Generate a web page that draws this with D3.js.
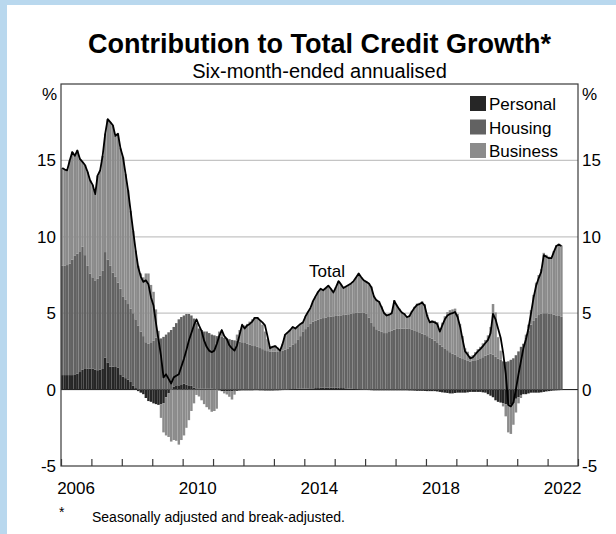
<!DOCTYPE html>
<html>
<head>
<meta charset="utf-8">
<script src="https://cdn.jsdelivr.net/npm/d3@7"></script>
<style>
  html, body { margin: 0; padding: 0; background: #b9d8ee; }
  svg { display: block; font-family: "Liberation Sans", Arial, sans-serif; }
</style>
</head>
<body>
<svg id="chart" width="616" height="534"></svg>
<script>
// Monthly observations, first month below; six-month-ended annualised, ppt contributions
const firstMonth = "2006-01";

const personal = [
  0.95, 0.95, 0.95, 0.95, 0.95, 1.0, 1.05, 1.15, 1.3, 1.35, 1.38, 1.38,
  1.38, 1.3, 1.27, 1.3, 1.35, 2.1, 1.75, 1.5, 1.5, 1.48, 1.45, 1.0,
  0.85, 0.75, 0.65, 0.5, 0.25, 0.1, -0.1, -0.2, -0.3, -0.55, -0.75, -0.8,
  -0.9, -0.95, -1.0, -0.95, -0.9, -0.5, -0.25, 0.0, 0.2, 0.28, 0.28, 0.3,
  0.38, 0.33, 0.28, 0.25, 0.13, 0.08, 0.05, 0.05, 0.05, 0.05, 0.05, 0.05,
  0.03, 0.0, -0.05, -0.1, -0.1, -0.12, -0.12, -0.1, -0.08, -0.08, -0.06, -0.05,
  -0.05, -0.05, -0.05, -0.05, -0.04, -0.04, -0.05, -0.05, -0.06, -0.06, -0.06, -0.06,
  -0.05, -0.05, -0.04, -0.03, -0.02, 0.0, 0.02, 0.03, 0.04, 0.05, 0.05, 0.06,
  0.06, 0.07, 0.08, 0.08, 0.1, 0.1, 0.12, 0.12, 0.13, 0.13, 0.13, 0.12,
  0.12, 0.12, 0.1, 0.1, 0.08, 0.06, 0.05, 0.04, 0.03, 0.02, 0.01, 0.0,
  -0.02, -0.03, -0.04, -0.05, -0.05, -0.05, -0.05, -0.05, -0.05, -0.05, -0.05, -0.05,
  -0.05, -0.05, -0.05, -0.05, -0.05, -0.06, -0.06, -0.07, -0.08, -0.08, -0.08, -0.09,
  -0.1, -0.1, -0.1, -0.1, -0.12, -0.15, -0.18, -0.2, -0.22, -0.25, -0.25, -0.22,
  -0.2, -0.2, -0.2, -0.2, -0.18, -0.15, -0.15, -0.15, -0.15, -0.15, -0.18, -0.2,
  -0.3, -0.4, -0.5, -0.7, -0.8, -0.85, -0.9, -0.95, -1.0, -1.0, -0.9, -0.6,
  -0.5, -0.35, -0.3, -0.3, -0.25, -0.2, -0.2, -0.2, -0.2, -0.18, -0.15, -0.12,
  -0.1, -0.08, -0.06, -0.05, -0.04, -0.03
];

const housing = [
  7.15, 7.15, 7.2, 7.3, 7.55, 7.75, 7.85, 7.9, 8.05, 7.45, 6.72, 6.22,
  5.97, 5.85, 5.98, 6.15, 6.45, 6.9, 6.75, 6.6, 6.15, 5.92, 5.55, 5.6,
  5.25, 5.15, 4.95, 4.8, 4.75, 4.5, 4.2, 3.8, 3.5, 3.1, 3.0, 3.05,
  3.2, 3.4, 3.35, 3.35, 3.45, 3.6, 3.75, 3.9, 3.9, 4.07, 4.32, 4.45,
  4.47, 4.62, 4.67, 4.6, 4.52, 4.27, 3.95, 3.85, 3.75, 3.75, 3.65, 3.55,
  3.52, 3.5, 3.5, 3.45, 3.4, 3.35, 3.3, 3.25, 3.22, 3.2, 3.15, 3.1,
  3.05, 3.0, 2.95, 2.9, 2.85, 2.8, 2.72, 2.65, 2.58, 2.52, 2.5, 2.48,
  2.48, 2.5, 2.52, 2.56, 2.62, 2.7, 2.8, 2.9, 3.0, 3.2, 3.45, 3.75,
  3.9, 4.07, 4.22, 4.37, 4.42, 4.48, 4.51, 4.56, 4.59, 4.62, 4.64, 4.68,
  4.7, 4.72, 4.76, 4.78, 4.82, 4.87, 4.91, 4.96, 4.99, 5.02, 5.04, 5.02,
  4.97, 4.7, 4.4, 4.15, 3.95, 3.85, 3.78, 3.7, 3.7, 3.77, 3.85, 3.92,
  3.97, 4.0, 4.0, 4.0, 4.0, 3.97, 3.94, 3.88, 3.82, 3.75, 3.66, 3.58,
  3.5, 3.42, 3.34, 3.2, 3.05, 2.95, 2.82, 2.7, 2.58, 2.45, 2.36, 2.28,
  2.18, 2.1, 2.0, 1.94, 1.88, 1.84, 1.88, 1.92, 1.98, 2.05, 2.12, 2.22,
  2.3, 2.36, 2.3, 2.15, 2.03, 1.95, 1.85, 1.82, 1.85, 1.95, 2.05, 2.25,
  2.5, 2.8, 3.0, 3.4, 3.85, 4.25, 4.5, 4.72, 4.88, 4.96, 5.0, 5.0,
  4.98, 4.95, 4.9, 4.86, 4.82, 4.78
];

const business = [
  6.4, 6.3, 6.2, 6.75, 7.05, 6.55, 6.75, 6.05, 5.55, 5.9, 6.15, 6.1,
  6.05, 5.65, 6.75, 6.9, 7.5, 7.75, 9.2, 9.4, 9.65, 9.2, 9.75, 9.2,
  9.1, 8.2, 7.45, 6.4, 5.4, 4.5, 3.9, 3.8, 3.85, 4.5, 4.6, 3.8,
  3.2, 1.85, 0.5, -0.9, -1.9, -2.5, -2.85, -3.4, -3.3, -3.35, -3.6, -3.3,
  -3.0, -2.5, -2.0, -1.4, -0.9, -0.35, -0.45, -0.7, -0.95, -1.15, -1.3, -1.45,
  -1.4, -1.25, 0.3, 0.45, -0.15, -0.2, -0.35, -0.55, -0.25, 0.4, 0.75, 1.0,
  1.15, 1.3, 1.5, 1.7, 1.9, 1.95, 1.83, 1.6, 1.22, 0.78, 0.35, 0.38,
  0.42, 0.25, 0.07, 0.47, 1.0, 1.05, 1.08, 1.17, 0.96, 0.9, 0.8, 0.59,
  0.84, 0.96, 1.05, 1.35, 1.58, 1.82, 1.97, 1.82, 1.93, 2.05, 1.83, 1.55,
  1.88, 2.26, 2.04, 1.77, 1.85, 1.92, 1.99, 2.1, 2.33, 2.56, 2.3, 2.13,
  2.1, 2.28, 2.34, 2.0, 1.95, 1.95, 1.67, 1.35, 1.2, 1.18, 1.2, 1.93,
  1.58, 1.3, 1.1, 1.0, 0.8, 0.89, 1.22, 1.54, 1.81, 1.93, 2.12, 2.01,
  1.4, 1.08, 1.21, 1.3, 1.37, 1.0, 1.56, 2.1, 2.49, 2.75, 2.89, 3.02,
  2.77, 2.2, 1.5, 0.76, 0.6, 0.36, 0.37, 0.53, 0.67, 0.75, 0.91, 1.03,
  1.25, 1.74, 3.3, 2.9, 1.4, 0.6, -0.2, -0.8, -1.8, -1.9, -1.4, -0.9,
  -0.4, -0.2, 0.0, 0.2, 0.4, 0.95, 1.7, 2.28, 2.62, 2.92, 3.95, 3.82,
  3.72, 3.73, 4.16, 4.59, 4.72, 4.65
];

const total = [
  14.5, 14.4, 14.35, 15.0, 15.55, 15.3, 15.65, 15.1, 14.9, 14.7, 14.25, 13.7,
  13.4, 12.8, 14.0, 14.35, 15.3, 16.75, 17.7, 17.5, 17.3, 16.6, 16.75, 15.8,
  15.2, 14.1, 13.05, 11.7, 10.4, 9.1, 8.0, 7.4, 7.05, 7.15, 6.9, 6.05,
  5.5, 4.3, 3.3, 2.2, 0.8, 1.0, 0.7, 0.4, 0.8, 0.9, 1.0, 1.5,
  2.0, 2.6, 3.2, 3.7, 4.2, 4.6, 4.2, 3.85, 3.2, 2.8, 2.55, 2.45,
  2.55, 3.0, 3.5, 3.9, 3.5, 3.3, 2.9, 2.7, 2.55, 2.9, 3.6, 4.25,
  4.0, 4.2, 4.3, 4.45, 4.7, 4.7, 4.55, 4.4, 4.2, 3.5, 2.7, 2.8,
  2.85, 2.7, 2.55, 3.0, 3.6, 3.75, 3.9, 4.1, 4.0, 4.15, 4.3, 4.4,
  4.8, 5.1, 5.35, 5.8, 6.1, 6.4, 6.6, 6.5, 6.65, 6.8, 6.6, 6.35,
  6.7, 7.1, 6.9, 6.65, 6.75, 6.85, 6.95, 7.1, 7.35, 7.6, 7.35, 7.15,
  7.05, 6.95, 6.7, 6.1, 5.85, 5.75, 5.4, 5.0, 4.85, 4.9, 5.0, 5.8,
  5.5, 5.25, 5.05, 4.95, 4.75, 4.8, 5.1, 5.35, 5.55, 5.6, 5.7, 5.5,
  4.8, 4.4, 4.45, 4.4, 4.3, 3.8, 4.2, 4.6, 4.85, 4.95, 5.0, 5.08,
  4.75, 4.1, 3.3, 2.5, 2.3, 2.05, 2.1, 2.3, 2.5, 2.65, 2.85, 3.05,
  3.25, 3.7, 4.95, 4.6, 4.0, 3.4, 2.4, 1.05, -1.0, -1.1, -0.85, 0.0,
  1.0, 1.9, 2.7, 3.3, 4.0, 5.0, 6.0, 6.8, 7.3, 7.7, 8.8, 8.7,
  8.6, 8.6, 9.0, 9.4, 9.5, 9.4
];

const seriesNames = ["Personal", "Housing", "Business"];
const seriesColors = ["#262626", "#626262", "#8b8b8b"];
const yearLabels = [2006, 2010, 2014, 2018, 2022];
const yTicks = [-5, 0, 5, 10, 15];
const gridValues = [5, 10, 15];

// ---- layout ----
const W = 616, H = 534;
const plot = { left: 61, right: 578, top: 84, bottom: 466 };
const svg = d3.select("#chart");

svg.append("rect")
  .attr("x", 7).attr("y", 5)
  .attr("width", W - 7).attr("height", H - 5)
  .attr("fill", "#ffffff");

const parse = d3.utcParse("%Y-%m");
const start = parse(firstMonth);
const rows = total.map((t, i) => ({
  date: d3.utcMonth.offset(start, i),
  Personal: personal[i],
  Housing: housing[i],
  Business: business[i],
  Total: t
}));

const x = d3.scaleUtc()
  .domain([new Date(Date.UTC(2006, 0, 1)), new Date(Date.UTC(2023, 0, 1))])
  .range([plot.left, plot.right]);
const y = d3.scaleLinear().domain([-5, 20]).range([plot.bottom, plot.top]);
const color = d3.scaleOrdinal().domain(seriesNames).range(seriesColors);

// horizontal gridlines
svg.append("g")
  .selectAll("line")
  .data(gridValues)
  .join("line")
  .attr("x1", plot.left).attr("x2", plot.right)
  .attr("y1", d => y(d)).attr("y2", d => y(d))
  .attr("stroke", "#c4c4c4")
  .attr("stroke-width", 1.3);

// zero line
svg.append("line")
  .attr("x1", plot.left).attr("x2", plot.right)
  .attr("y1", y(0)).attr("y2", y(0))
  .attr("stroke", "#111")
  .attr("stroke-width", 1);

// stacked bars (positives and negatives stacked away from zero)
const stacked = d3.stack()
  .keys(seriesNames)
  .offset(d3.stackOffsetDiverging)(rows);

const gap = 0.05;
svg.append("g")
  .selectAll("g")
  .data(stacked)
  .join("g")
  .attr("fill", d => color(d.key))
  .selectAll("rect")
  .data(d => d)
  .join("rect")
  .attr("x", d => x(d.data.date) + gap / 2)
  .attr("width", d => x(d3.utcMonth.offset(d.data.date, 1)) - x(d.data.date) - gap)
  .attr("y", d => y(Math.max(d[0], d[1])))
  .attr("height", d => Math.abs(y(d[0]) - y(d[1])));

// total line through mid-month points
const line = d3.line()
  .x(d => x(d3.utcDay.offset(d.date, 15)))
  .y(d => y(d.Total));
svg.append("path")
  .datum(rows)
  .attr("d", line)
  .attr("fill", "none")
  .attr("stroke", "#000")
  .attr("stroke-width", 1.8)
  .attr("stroke-linejoin", "round");

// frame
svg.append("rect")
  .attr("x", plot.left).attr("y", plot.top)
  .attr("width", plot.right - plot.left)
  .attr("height", plot.bottom - plot.top)
  .attr("fill", "none")
  .attr("stroke", "#3a3a3a")
  .attr("stroke-width", 1.2);

// year ticks pointing into the plot
const xAxis = d3.axisBottom(x)
  .ticks(d3.utcYear.every(1))
  .tickSize(-7)
  .tickFormat("");
const gx = svg.append("g")
  .attr("transform", `translate(0,${plot.bottom})`)
  .call(xAxis);
gx.select(".domain").remove();
gx.selectAll(".tick line").attr("stroke", "#3a3a3a").attr("stroke-width", 1.2);

// year labels centred in each year
svg.append("g")
  .selectAll("text")
  .data(yearLabels)
  .join("text")
  .attr("x", d => x(new Date(Date.UTC(d, 6, 1))))
  .attr("y", 494)
  .attr("text-anchor", "middle")
  .attr("font-size", 17)
  .attr("fill", "#000")
  .text(d => d);

// y labels on both sides
const yFmt = d => String(d);
const yAxisL = d3.axisLeft(y).tickValues(yTicks).tickFormat(yFmt).tickSize(0).tickPadding(5);
const gyl = svg.append("g").attr("transform", `translate(${plot.left},0)`).call(yAxisL);
const yAxisR = d3.axisRight(y).tickValues(yTicks).tickFormat(yFmt).tickSize(0).tickPadding(4);
const gyr = svg.append("g").attr("transform", `translate(${plot.right},0)`).call(yAxisR);
[gyl, gyr].forEach(g => {
  g.select(".domain").remove();
  g.selectAll("text")
    .attr("font-size", 17)
    .attr("font-family", "Liberation Sans, Arial, sans-serif")
    .attr("fill", "#000");
});

svg.append("text").attr("x", 57).attr("y", 100).attr("text-anchor", "end")
  .attr("font-size", 17).text("%");
svg.append("text").attr("x", 582).attr("y", 100).attr("text-anchor", "start")
  .attr("font-size", 17).text("%");

// titles
svg.append("text")
  .attr("x", (plot.left + plot.right) / 2).attr("y", 53)
  .attr("text-anchor", "middle")
  .attr("font-size", 27).attr("font-weight", "bold")
  .text("Contribution to Total Credit Growth*");
svg.append("text")
  .attr("x", (plot.left + plot.right) / 2).attr("y", 78)
  .attr("text-anchor", "middle")
  .attr("font-size", 20)
  .text("Six-month-ended annualised");

// legend
const legend = svg.append("g")
  .selectAll("g")
  .data(seriesNames)
  .join("g")
  .attr("transform", (d, i) => `translate(470,${96 + i * 23.5})`);
legend.append("rect")
  .attr("width", 16).attr("height", 15)
  .attr("fill", d => color(d));
legend.append("text")
  .attr("x", 19).attr("y", 14)
  .attr("font-size", 17)
  .text(d => d);

// series label for the line
svg.append("text")
  .attr("x", 327).attr("y", 277)
  .attr("text-anchor", "middle")
  .attr("font-size", 17)
  .text("Total");

// footnote
svg.append("text").attr("x", 59).attr("y", 517).attr("font-size", 14).text("*");
svg.append("text").attr("x", 92).attr("y", 522).attr("font-size", 14)
  .text("Seasonally adjusted and break-adjusted.");
</script>
</body>
</html>
